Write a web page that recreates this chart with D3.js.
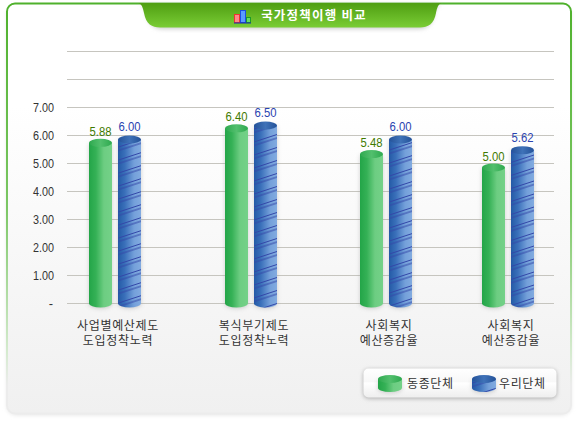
<!DOCTYPE html>
<html>
<head>
<meta charset="utf-8">
<script src="https://cdn.jsdelivr.net/npm/d3@7"></script>
<style>
html, body { margin: 0; padding: 0; background: #fff; }
svg { display: block; }
text { font-family: "Noto Sans CJK KR", "Noto Sans", sans-serif; }
.num { font-family: "Liberation Sans", sans-serif; }
</style>
</head>
<body>
<div id="canvas"></div>
<script>
const title = '국가정책이행 비교';
const categories = ['c1', 'c2', 'c3', 'c4'];
const category_lines = [
    ['사업별예산제도', '도입정착노력'],
    ['복식부기제도', '도입정착노력'],
    ['사회복지', '예산증감율'],
    ['사회복지', '예산증감율']
];
const series_names = ['동종단체', '우리단체'];
const peer_values = [5.88, 6.40, 5.48, 5.00];
const our_values = [6.00, 6.50, 6.00, 5.62];
const tick_values = [1, 2, 3, 4, 5, 6, 7, 8, 9];
const peer_labels = ['5.88', '6.40', '5.48', '5.00'];
const our_labels = ['6.00', '6.50', '6.00', '5.62'];

const width = 578;
const height = 421;

const svg = d3.select('#canvas')
    .append('svg')
    .attr('width', width)
    .attr('height', height);

const defs = svg.append('defs');

function gradient(id, stops, x2, y2) {
    const g = defs.append('linearGradient')
        .attr('id', id)
        .attr('x1', 0).attr('y1', 0)
        .attr('x2', x2).attr('y2', y2);
    stops.forEach(s => g.append('stop').attr('offset', s[0]).attr('stop-color', s[1]));
}

gradient('card_bg', [[0, '#ffffff'], [0.25, '#ffffff'], [1, '#f0f0f0']], 0, 1);
gradient('card_border', [[0, '#4fb12c'], [0.5, '#7cc765'], [0.85, '#d5ebcf'], [0.93, '#ececec'], [1, '#ececec']], 0, 1);
gradient('tab_bg', [[0, '#4f9e12'], [1, '#7acd35']], 0, 1);
gradient('green_body', [[0, '#23a548'], [0.3, '#35b156'], [0.65, '#6dcd82'], [1, '#74d188']], 1, 0);
gradient('green_top', [[0, '#2ea94f'], [0.5, '#52bf6d'], [1, '#2ea94f']], 1, 0);
gradient('blue_body', [[0, '#245aa6'], [0.3, '#3a70ba'], [0.7, '#74a0da'], [1, '#82abe0']], 1, 0);
gradient('blue_top', [[0, '#245299'], [0.5, '#3f72b8'], [1, '#245299']], 1, 0);
gradient('legend_bg', [[0, '#ffffff'], [0.45, '#f8f8f8'], [0.5, '#ffffff'], [1, '#eeeeee']], 0, 1);

const soft = defs.append('filter').attr('id', 'soft')
    .attr('x', '-20%').attr('y', '-20%').attr('width', '140%').attr('height', '140%');
soft.append('feGaussianBlur').attr('stdDeviation', 2);

const stripes = defs.append('pattern')
    .attr('id', 'stripes')
    .attr('patternUnits', 'userSpaceOnUse')
    .attr('width', 23)
    .attr('height', 13)
    .attr('patternTransform', 'skewY(-18)');
stripes.append('rect').attr('x', 0).attr('y', 3).attr('width', 23).attr('height', 1).attr('fill', '#3347a8');
stripes.append('rect').attr('x', 0).attr('y', 6.5).attr('width', 23).attr('height', 1).attr('fill', '#3347a8');

// card
svg.append('rect')
    .attr('x', 7).attr('y', 6).attr('width', 564).attr('height', 409).attr('rx', 9)
    .attr('fill', '#e4e4e4').attr('filter', 'url(#soft)');
svg.append('rect')
    .attr('x', 7).attr('y', 3.5).attr('width', 564).attr('height', 410).attr('rx', 8)
    .attr('fill', 'url(#card_bg)')
    .attr('stroke', 'url(#card_border)')
    .attr('stroke-width', 2);

// title tab
svg.append('path')
    .attr('d', 'M140 3 C144 4 146 8 147 14 C149 24 155 28 163 28 L418 28 C426 28 432 24 434 14 C435 8 437 4 441 3 Z')
    .attr('fill', '#cccccc')
    .attr('filter', 'url(#soft)')
    .attr('transform', 'translate(0,1)');
svg.append('path')
    .attr('d', 'M138 3 C142 4 143 8 144 13 C146 24 152 27.5 160 27.5 L420 27.5 C428 27.5 434 24 436 13 C437 8 438 4 442 3 Z')
    .attr('fill', 'url(#tab_bg)');

const icon = svg.append('g').attr('transform', 'translate(234,10)');
icon.append('rect').attr('x', 0.5).attr('y', 4.5).attr('width', 5).attr('height', 8).attr('fill', '#f88').attr('stroke', '#e33');
icon.append('rect').attr('x', 6.5).attr('y', 0.5).attr('width', 5).attr('height', 12).attr('fill', '#5a9bff').attr('stroke', '#1c4fe0');
icon.append('rect').attr('x', 12.5).attr('y', 7.5).attr('width', 4).attr('height', 5).attr('fill', '#6d6').attr('stroke', '#1a9a2a');
icon.append('rect').attr('x', 0).attr('y', 12.5).attr('width', 17).attr('height', 1).attr('fill', '#1a2bb0');

svg.append('text')
    .attr('x', 314).attr('y', 20)
    .attr('text-anchor', 'middle')
    .attr('font-size', 12.5)
    .attr('letter-spacing', 1.2)
    .attr('font-weight', 700)
    .attr('fill', '#ffffff')
    .text(title);

// scales
const y = d3.scaleLinear().domain([0, 9]).range([303.5, 51.5]);
const x = d3.scaleOrdinal().domain(categories).range([115, 251, 386, 508]);
const inner = d3.scaleBand().domain(series_names).range([-26, 26]).paddingInner(0.207).paddingOuter(0);

// grid and ticks
svg.append('g')
    .selectAll('line')
    .data([0].concat(tick_values))
    .enter()
    .append('line')
    .attr('x1', 67).attr('x2', 554)
    .attr('y1', d => y(d)).attr('y2', d => y(d))
    .attr('stroke', '#c6c5bf')
    .attr('stroke-width', 1);

svg.append('g')
    .selectAll('text')
    .data(tick_values.filter(d => d <= 7))
    .enter()
    .append('text')
    .attr('class', 'num')
    .attr('x', 54)
    .attr('y', d => y(d) + 4.5)
    .attr('text-anchor', 'end')
    .attr('font-size', 13)
    .attr('textLength', 21)
    .attr('lengthAdjust', 'spacingAndGlyphs')
    .attr('fill', '#333333')
    .text(d => d.toFixed(2));

svg.append('text')
    .attr('class', 'num')
    .attr('x', 53).attr('y', y(0) + 4.5)
    .attr('text-anchor', 'end')
    .attr('font-size', 13)
    .attr('fill', '#333333')
    .text('-');

// bars
const ry = 4;
const bw = inner.bandwidth();

function draw_bar(g, cx, top, bottom, w, name) {
    const is_peer = name === series_names[0];
    const x0 = cx - w / 2;
    const e = ry;
    const body = `M${x0} ${top + e} L${x0} ${bottom} A${w / 2} ${e} 0 0 0 ${x0 + w} ${bottom} L${x0 + w} ${top + e} Z`;
    g.append('path').attr('d', body)
        .attr('fill', '#999999')
        .attr('opacity', 0.45)
        .attr('filter', 'url(#soft)')
        .attr('transform', 'translate(0,1)');
    g.append('path').attr('d', body).attr('fill', is_peer ? 'url(#green_body)' : 'url(#blue_body)');
    if (!is_peer) g.append('path').attr('d', body).attr('fill', 'url(#stripes)');
    g.append('ellipse')
        .attr('cx', cx).attr('cy', top + e)
        .attr('rx', w / 2).attr('ry', e)
        .attr('fill', is_peer ? 'url(#green_top)' : 'url(#blue_top)');
}

const series = [
    { name: series_names[0], values: peer_values, labels: peer_labels, color: '#3f7a00', gap: 3 },
    { name: series_names[1], values: our_values, labels: our_labels, color: '#2a43b0', gap: 4.5 }
];

series.forEach(s => {
    categories.forEach((c, i) => {
        const cx = x(c) + inner(s.name) + bw / 2;
        draw_bar(svg.append('g'), cx, y(s.values[i]), y(0), bw, s.name);
        svg.append('text')
            .attr('class', 'num')
            .attr('x', cx)
            .attr('y', y(s.values[i]) - s.gap)
            .attr('text-anchor', 'middle')
            .attr('font-size', 13)
            .attr('textLength', 22)
            .attr('lengthAdjust', 'spacingAndGlyphs')
            .attr('fill', s.color)
            .text(s.labels[i]);
    });
});

// category labels
categories.forEach((c, i) => {
    const t = svg.append('text')
        .attr('text-anchor', 'middle')
        .attr('font-size', 12)
        .attr('letter-spacing', 0.7)
        .attr('fill', '#333333');
    category_lines[i].forEach((line, j) => {
        t.append('tspan')
            .attr('x', x(c) + 3)
            .attr('y', 330 + j * 15)
            .text(line);
    });
});

// legend
svg.append('rect')
    .attr('x', 363.5).attr('y', 369.5).attr('width', 193).attr('height', 29).attr('rx', 5)
    .attr('fill', '#aaaaaa').attr('filter', 'url(#soft)');
svg.append('rect')
    .attr('x', 363.5).attr('y', 368.5).attr('width', 193).attr('height', 29).attr('rx', 5)
    .attr('fill', 'url(#legend_bg)');

const legend_x = d3.scaleOrdinal().domain(series_names).range([378, 472]);
const legend_text_x = d3.scaleOrdinal().domain(series_names).range([407, 499]);
series_names.forEach(name => {
    const lx = legend_x(name);
    draw_bar(svg.append('g'), lx + 12, 375, 388, 24, name);
    svg.append('text')
        .attr('x', legend_text_x(name))
        .attr('y', 388)
        .attr('font-size', 12)
        .attr('letter-spacing', 0.6)
        .attr('fill', '#333333')
        .text(name);
});
</script>
</body>
</html>
